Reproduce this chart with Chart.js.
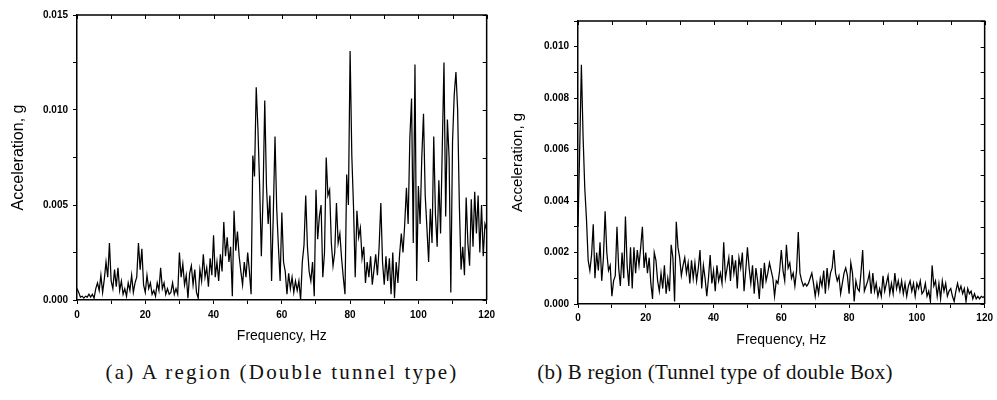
<!DOCTYPE html>
<html><head><meta charset="utf-8">
<script src="https://cdn.jsdelivr.net/npm/chart.js@4.4.1/dist/chart.umd.min.js"></script>
<style>
html,body{margin:0;padding:0;background:#fff;}
#wrap{position:relative;width:997px;height:400px;overflow:hidden;background:#fff;}
.pane{position:absolute;top:0;}
#pa{left:0;width:500px;height:350px;}
#pb{left:500px;width:497px;height:350px;}
.cap{position:absolute;top:360px;font-family:"Liberation Serif",serif;font-size:21px;line-height:24px;color:#111;white-space:nowrap;transform:translateX(-50%);}
</style></head>
<body><div id="wrap">
<div class="pane" id="pa"><canvas id="ca" width="500" height="350"></canvas></div>
<div class="pane" id="pb"><canvas id="cb" width="497" height="350"></canvas></div>
<div class="cap" id="capA" style="left:282px;letter-spacing:2.2px">(a) A region (Double tunnel type)</div>
<div class="cap" id="capB" style="left:715px;letter-spacing:0.2px">(b) B region (Tunnel type of double Box)</div>
</div>
<script>
// Frequency grid (Hz)
const freqs = [
0,0.5,1,1.5,2,2.5,3,3.5,4,4.5,5,5.5,6,6.5,7,7.5,8,8.5,9,9.5,
10,10.5,11,11.5,12,12.5,13,13.5,14,14.5,15,15.5,16,16.5,17,17.5,18,18.5,19,19.5,
20,20.5,21,21.5,22,22.5,23,23.5,24,24.5,25,25.5,26,26.5,27,27.5,28,28.5,29,29.5,
30,30.5,31,31.5,32,32.5,33,33.5,34,34.5,35,35.5,36,36.5,37,37.5,38,38.5,39,39.5,
40,40.5,41,41.5,42,42.5,43,43.5,44,44.5,45,45.5,46,46.5,47,47.5,48,48.5,49,49.5,
50,50.5,51,51.5,52,52.5,53,53.5,54,54.5,55,55.5,56,56.5,57,57.5,58,58.5,59,59.5,
60,60.5,61,61.5,62,62.5,63,63.5,64,64.5,65,65.5,66,66.5,67,67.5,68,68.5,69,69.5,
70,70.5,71,71.5,72,72.5,73,73.5,74,74.5,75,75.5,76,76.5,77,77.5,78,78.5,79,79.5,
80,80.5,81,81.5,82,82.5,83,83.5,84,84.5,85,85.5,86,86.5,87,87.5,88,88.5,89,89.5,
90,90.5,91,91.5,92,92.5,93,93.5,94,94.5,95,95.5,96,96.5,97,97.5,98,98.5,99,99.5,
100,100.5,101,101.5,102,102.5,103,103.5,104,104.5,105,105.5,106,106.5,107,107.5,108,108.5,109,109.5,
110,110.5,111,111.5,112,112.5,113,113.5,114,114.5,115,115.5,116,116.5,117,117.5,118,118.5,119,119.5,
120];

// (a) A region acceleration (g)
const accA = [
0.0006,0.0004,0.00015,0.0002,0.0001,0.0002,0.00015,0.0003,0.00015,0.0003,0.0001,0.0006,0.0009,0.0005,0.0013,0.0004,0.0011,0.0020,0.0012,0.0030,
0.0010,0.0006,0.0016,0.0007,0.0017,0.0005,0.0010,0.0003,0.0006,0.0002,0.0009,0.0005,0.0013,0.0004,0.0009,0.0012,0.0030,0.0016,0.0027,0.0008,
0.0004,0.0013,0.0006,0.0009,0.0003,0.0005,0.0002,0.0009,0.0005,0.0017,0.0006,0.0009,0.0003,0.0006,0.0003,0.0004,0.0009,0.0003,0.0006,0.0003,
0.0025,0.0012,0.0019,0.0008,0.0013,0.0001,0.0014,0.0018,0.0008,0.0016,0.0004,0.0001,0.0016,0.0010,0.0024,0.0012,0.0017,0.0007,0.0022,0.0013,
0.0034,0.0012,0.0020,0.0010,0.0024,0.0015,0.0041,0.0023,0.0033,0.0020,0.0028,0.0002,0.0047,0.0026,0.0036,0.0023,0.0015,0.0008,0.0020,0.0012,
0.0025,0.0015,0.0003,0.0076,0.0065,0.0112,0.0090,0.0060,0.0023,0.0055,0.0105,0.0060,0.0040,0.0055,0.0010,0.0045,0.0086,0.0048,0.0028,0.0010,
0.0046,0.0020,0.0015,0.0003,0.0014,0.0006,0.0012,0.0004,0.0010,0.0005,0.0010,0.0000,0.0020,0.0029,0.0055,0.0028,0.0015,0.0010,0.0020,0.0002,
0.0058,0.0032,0.0044,0.0050,0.0012,0.0025,0.0075,0.0055,0.0058,0.0030,0.0018,0.0025,0.0051,0.0030,0.0035,0.0022,0.0012,0.0003,0.0066,0.0050,
0.0131,0.0076,0.0049,0.0012,0.0047,0.0033,0.0038,0.0022,0.0028,0.0009,0.0020,0.0012,0.0023,0.0008,0.0016,0.0024,0.0013,0.0028,0.0051,0.0020,
0.0008,0.0023,0.0010,0.0022,0.0003,0.0025,0.0001,0.0020,0.0009,0.0024,0.0035,0.0025,0.0040,0.0059,0.0040,0.0085,0.0106,0.0030,0.0124,0.0010,
0.0060,0.0040,0.0075,0.0098,0.0055,0.0038,0.0020,0.0048,0.0030,0.0086,0.0045,0.0028,0.0063,0.0035,0.0080,0.0125,0.0044,0.0095,0.0075,0.0004,
0.0083,0.0108,0.0120,0.0100,0.0050,0.0016,0.0028,0.0013,0.0054,0.0030,0.0018,0.0053,0.0028,0.0057,0.0035,0.0055,0.0025,0.0050,0.0023,0.0040,
0.0037];

// (b) B region acceleration (g)
const accB = [
0.0030,0.0060,0.0093,0.0065,0.0045,0.0033,0.0017,0.0013,0.0019,0.0031,0.0010,0.0020,0.0013,0.0024,0.0009,0.0018,0.0036,0.0020,0.0013,0.0015,
0.0003,0.0009,0.0011,0.0030,0.0014,0.0007,0.0020,0.0010,0.0034,0.0015,0.0007,0.0022,0.0006,0.0022,0.0012,0.0021,0.0015,0.0022,0.0030,0.0014,
0.0020,0.0012,0.0018,0.0008,0.0002,0.0020,0.0017,0.0009,0.0005,0.0012,0.0006,0.0015,0.0004,0.0010,0.0005,0.0023,0.0018,0.0001,0.0032,0.0022,
0.0018,0.0011,0.0015,0.0018,0.0012,0.0016,0.0008,0.0017,0.0010,0.0016,0.0009,0.0014,0.0021,0.0006,0.0015,0.0010,0.0003,0.0010,0.0019,0.0008,
0.0013,0.0005,0.0015,0.0009,0.0012,0.0008,0.0024,0.0010,0.0014,0.0018,0.0009,0.0019,0.0012,0.0017,0.0006,0.0018,0.0014,0.0020,0.0005,0.0013,
0.0022,0.0014,0.0008,0.0015,0.0004,0.0014,0.0009,0.0002,0.0014,0.0006,0.0016,0.0009,0.0012,0.0016,0.0013,0.0010,0.0003,0.0009,0.0008,0.0013,
0.0021,0.0013,0.0009,0.0023,0.0014,0.0016,0.0010,0.0012,0.0007,0.0013,0.0028,0.0012,0.0009,0.0007,0.0008,0.0007,0.0008,0.0010,0.0012,0.0008,
0.0003,0.0008,0.0004,0.0010,0.0007,0.0013,0.0004,0.0014,0.0007,0.0012,0.0014,0.0021,0.0012,0.0009,0.0011,0.0004,0.0008,0.0012,0.0014,0.0011,
0.0004,0.0016,0.0012,0.0001,0.0009,0.0006,0.0005,0.0012,0.0021,0.0005,0.0007,0.0009,0.0012,0.0004,0.0012,0.0005,0.0008,0.0003,0.0006,0.0003,
0.0011,0.0005,0.0008,0.0011,0.0004,0.0008,0.0004,0.0012,0.0006,0.0009,0.0005,0.0009,0.0004,0.0008,0.0003,0.0007,0.0009,0.0005,0.0008,0.0003,
0.0008,0.0006,0.0009,0.0004,0.0005,0.0008,0.0003,0.0005,0.0001,0.0015,0.0007,0.0009,0.0003,0.0008,0.0002,0.0009,0.0005,0.0008,0.0003,0.0005,
0.0006,0.0003,0.0001,0.0005,0.0008,0.0005,0.0007,0.0004,0.0006,0.0001,0.0006,0.0004,0.0005,0.0002,0.0004,0.0002,0.0003,0.0002,0.0003,0.00025,
0.0003];

// Tick labels
const xTickLabels = ['0','20','40','60','80','100','120'];
const yTickLabelsA = ['0.000','0.005','0.010','0.015'];
const yTickLabelsB = ['0.000','0.002','0.004','0.006','0.008','0.010'];
const xTitle = 'Frequency, Hz';
const yTitle = 'Acceleration, g';

// Frame: top/right border with inward ticks (Origin style)
const frame = {
  id: 'frame',
  afterDraw(chart) {
    const {ctx, chartArea: a, scales: {x, y}} = chart;
    ctx.save();
    ctx.strokeStyle = '#000';
    ctx.lineWidth = 1.5;
    ctx.beginPath();
    ctx.moveTo(a.left, a.top); ctx.lineTo(a.right, a.top); ctx.lineTo(a.right, a.bottom);
    ctx.stroke();
    ctx.lineWidth = 1;
    ctx.beginPath();
    x.ticks.forEach(t => {
      const px = Math.round(x.getPixelForValue(t.value)) + 0.5;
      ctx.moveTo(px, a.top); ctx.lineTo(px, a.top + 4);
    });
    y.ticks.forEach(t => {
      const py = Math.round(y.getPixelForValue(t.value)) + 0.5;
      ctx.moveTo(a.right, py); ctx.lineTo(a.right - 4, py);
    });
    ctx.stroke();
    ctx.restore();
  }
};

const tickFont = {family: 'Liberation Sans, Arial, sans-serif', size: 10, weight: 'bold'};

function makeChart(id, values, cfg) {
  const pts = freqs.map((f, i) => ({x: f, y: values[i]}));
  return new Chart(document.getElementById(id), {
    type: 'line',
    data: {datasets: [{data: pts, borderColor: '#000', borderWidth: 1.25, pointRadius: 0, tension: 0, fill: false}]},
    options: {
      responsive: false, animation: false, events: [],
      layout: {padding: {top: cfg.padTop, right: cfg.padRight, left: 0, bottom: 0}},
      plugins: {legend: {display: false}, tooltip: {enabled: false}},
      scales: {
        x: {
          type: 'linear', min: 0, max: 120,
          ticks: {stepSize: 10, autoSkip: false, maxRotation: 0, padding: cfg.xTickPad, color: '#000', font: tickFont,
            callback: v => xTickLabels.includes(String(v)) ? String(v) : ''},
          grid: {drawOnChartArea: false, tickLength: 4, tickColor: '#000', tickWidth: 1},
          border: {color: '#000', width: 1.5},
          title: {display: true, text: xTitle, color: '#000', font: {family: 'Liberation Sans, Arial, sans-serif', size: 14}, padding: {top: 0, bottom: cfg.xTitlePad}},
          afterFit: s => { s.height = cfg.xH; }
        },
        y: {
          type: 'linear', min: 0, max: cfg.yMax,
          ticks: {stepSize: cfg.yStep, autoSkip: false, padding: 5, color: '#000', font: tickFont,
            callback: v => { const s = Number(v).toFixed(3); return cfg.yLabels.includes(s) ? s : ''; }},
          grid: {drawOnChartArea: false, tickLength: 4, tickColor: '#000', tickWidth: 1},
          border: {color: '#000', width: 1.5},
          title: {display: true, text: yTitle, color: '#000', font: {family: 'Liberation Sans, Arial, sans-serif', size: cfg.yTitleSize}, padding: {top: cfg.yTitlePad, bottom: 0}},
          afterFit: s => { s.width = cfg.yW; }
        }
      }
    },
    plugins: [frame]
  });
}

makeChart('ca', accA, {padTop: 15, padRight: 13, xH: 50, yW: 77, yMax: 0.015, yStep: 0.0025, yLabels: yTickLabelsA, xTickPad: 5, xTitlePad: 5.5, yTitleSize: 16, yTitlePad: 9});
makeChart('cb', accB, {padTop: 21, padRight: 10, xH: 46, yW: 78, yMax: 0.011, yStep: 0.001, yLabels: yTickLabelsB, xTickPad: 4, xTitlePad: 1, yTitleSize: 15, yTitlePad: 9});
</script>
</body></html>
